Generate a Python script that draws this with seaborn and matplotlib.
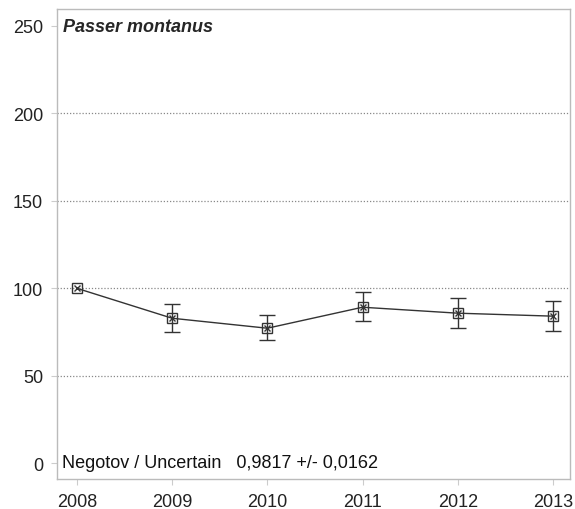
import numpy as np
import pandas as pd
import matplotlib
matplotlib.use("Agg")
import matplotlib.pyplot as plt
import seaborn as sns

# Values
years = [2008, 2009, 2010, 2011, 2012, 2013]
index = [100.0, 82.9, 77.2, 89.2, 85.8, 84.1]
err_low = [100.0, 75.0, 70.4, 81.2, 77.2, 75.5]
err_high = [100.0, 91.0, 84.7, 97.8, 94.4, 92.7]
y_ticks = [0, 50, 100, 150, 200, 250]
grid_levels = [50, 100, 150, 200]
species = "Passer montanus"
note = "Negotov / Uncertain   0,9817 +/- 0,0162"

df = pd.DataFrame({"year": years, "index": index, "lo": err_low, "hi": err_high})
# base year has no interval
eb = df[df["hi"] > df["lo"]]

sns.set_style("white")
plt.rcParams["font.family"] = ["Liberation Sans", "DejaVu Sans"]

fig = plt.figure(figsize=(5.75, 5.1), dpi=100)
ax = fig.add_axes([57 / 575, 30 / 510, 513 / 575, 470 / 510])

for lvl in grid_levels:
    ax.axhline(lvl, color="#888888", lw=0.9, ls=(0, (1, 1.5)), zorder=0)

ax.errorbar(eb["year"], eb["index"],
            yerr=[eb["index"] - eb["lo"], eb["hi"] - eb["index"]],
            fmt="none", ecolor="#333333", elinewidth=1.0, capsize=6, capthick=1.0, zorder=2)

sns.lineplot(data=df, x="year", y="index", ax=ax, color="#333333", lw=1.0,
             marker="s", markersize=7, markerfacecolor="none",
             markeredgecolor="#333333", markeredgewidth=1.0, zorder=3)
ax.plot(df["year"], df["index"], ls="none", marker="x", markersize=5,
        color="#333333", mew=1.0, zorder=4)

ax.set_xlim(2007.79, 2013.18)
ax.set_ylim(-9, 259.7)
ax.set_xticks(years)
ax.set_yticks(y_ticks)
ax.set_xlabel("")
ax.set_ylabel("")
ax.tick_params(axis="both", labelsize=13, colors="#222222", length=4, width=0.8,
               direction="out", color="#cccccc", pad=6)
ax.tick_params(axis="both", which="both", bottom=True, left=True)
for s in ax.spines.values():
    s.set_color("#bbbbbb")
    s.set_linewidth(1.0)

ax.text(0.012, 0.963, species, transform=ax.transAxes, fontsize=13,
        fontweight="bold", fontstyle="italic", va="center", ha="left")
ax.text(0.01, 0.036, note, transform=ax.transAxes, fontsize=13,
        va="center", ha="left", color="#111111")

fig.savefig("out.png", dpi=100)
